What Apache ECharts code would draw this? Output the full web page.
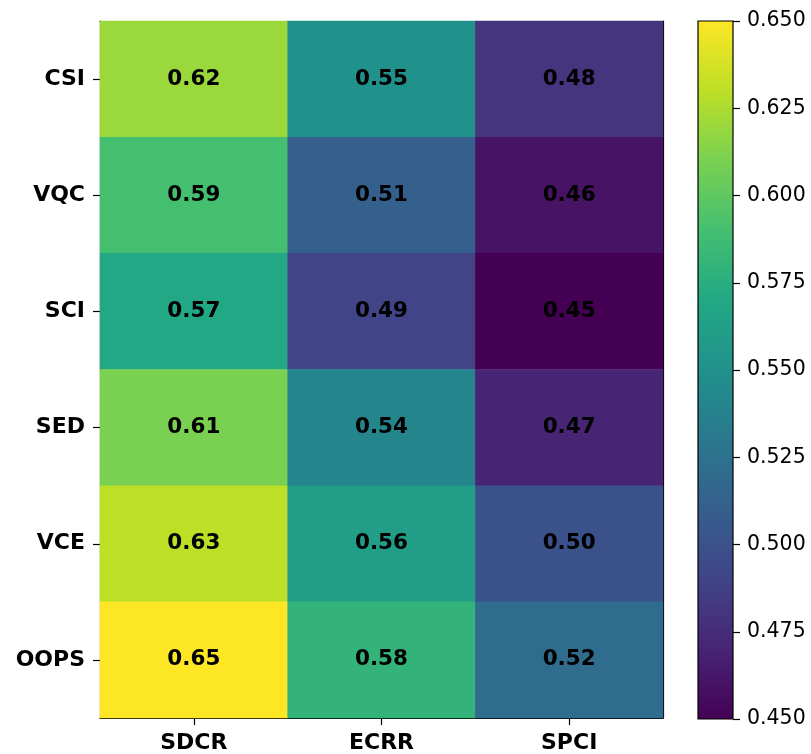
<!DOCTYPE html>
<html><head><meta charset="utf-8">
<script src="https://cdn.jsdelivr.net/npm/echarts@6/dist/echarts.min.js"></script>
<style>html,body{margin:0;padding:0;background:#fff}#c{width:811px;height:754px}</style>
</head><body><div id="c"></div>
<script>
var rows = ['CSI','VQC','SCI','SED','VCE','OOPS'];
var cols = ['SDCR','ECRR','SPCI'];
var SDCR = [0.62,0.59,0.57,0.61,0.63,0.65];
var ECRR = [0.55,0.51,0.49,0.54,0.56,0.58];
var SPCI = [0.48,0.46,0.45,0.47,0.50,0.52];
var cbMin = 0.45, cbMax = 0.65, cbStep = 0.025;
var viridis = ['#440154','#482475','#414487','#355f8d','#2a788e','#21918c','#22a884','#44bf70','#7ad151','#bddf26','#fde725'];

var seriesVals = [SDCR, ECRR, SPCI];
var data = [];
seriesVals.forEach(function(arr, ci){ arr.forEach(function(v, ri){ data.push([ci, ri, v]); }); });

var stops = viridis.map(function(c,i){ return {offset: 1 - i/(viridis.length-1), color: c}; }).reverse();
var FF = 'DejaVu Sans';
var chart = echarts.init(document.getElementById('c'), null, {renderer:'canvas'});
chart.setOption({
  animation:false,
  backgroundColor:'#fff',
  grid:[
    {left:100, top:21, width:563, height:698},
    {left:698, top:21, width:35, height:698, show:true, borderColor:'#000', borderWidth:1.2,
     backgroundColor:{type:'linear', x:0, y:0, x2:0, y2:1, colorStops:stops}}
  ],
  xAxis:[
    {type:'category', data:cols, gridIndex:0, position:'bottom',
     axisLine:{show:true, lineStyle:{color:'#000', width:1.2}},
     axisTick:{show:true, alignWithLabel:true, length:7, lineStyle:{color:'#000', width:1.2}},
     axisLabel:{fontFamily:FF, fontWeight:'bold', fontSize:22, color:'#000', margin:14},
     splitLine:{show:false}},
    {type:'category', data:cols, gridIndex:0, position:'top',
     axisLine:{show:true, lineStyle:{color:'#000', width:1.2}}, axisTick:{show:false}, axisLabel:{show:false}},
    {type:'value', gridIndex:1, show:false, min:0, max:1}
  ],
  yAxis:[
    {type:'category', data:rows, inverse:true, gridIndex:0, position:'left',
     axisLine:{show:true, lineStyle:{color:'#000', width:1.2}},
     axisTick:{show:true, alignWithLabel:true, length:7, lineStyle:{color:'#000', width:1.2}},
     axisLabel:{fontFamily:FF, fontWeight:'bold', fontSize:22, color:'#000', margin:15},
     splitLine:{show:false}},
    {type:'category', data:rows, inverse:true, gridIndex:0, position:'right',
     axisLine:{show:true, lineStyle:{color:'#000', width:1.2}}, axisTick:{show:false}, axisLabel:{show:false}},
    {type:'value', gridIndex:1, position:'right', min:cbMin, max:cbMax, interval:cbStep,
     axisLine:{show:false, onZero:false},
     axisTick:{show:true, length:7, lineStyle:{color:'#000', width:1.2}},
     axisLabel:{fontFamily:FF, fontSize:20.5, color:'#000', margin:14, formatter:function(v){return v.toFixed(3);}},
     splitLine:{show:false}}
  ],
  visualMap:{show:false, type:'continuous', min:cbMin, max:cbMax, seriesIndex:0, dimension:2, inRange:{color:viridis}},
  series:[{
    type:'heatmap', xAxisIndex:0, yAxisIndex:0, data:data,
    label:{show:true, fontFamily:FF, fontWeight:'bold', fontSize:21.5, color:'#000',
      formatter:function(p){return p.value[2].toFixed(2);}},
    itemStyle:{borderWidth:0}
  }]
});
</script></body></html>
